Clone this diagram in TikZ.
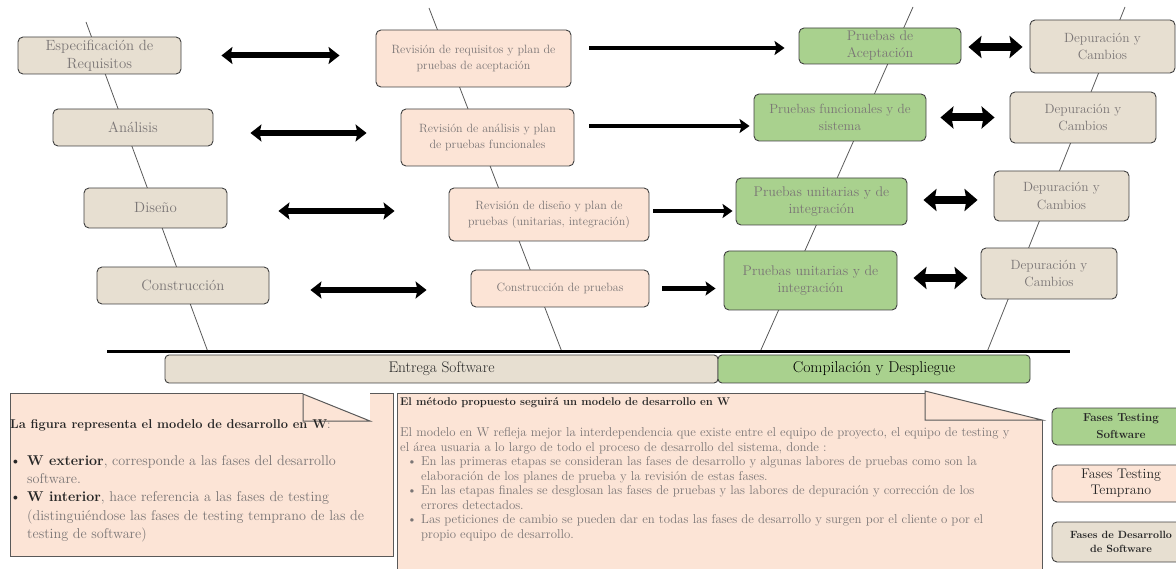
\documentclass[tikz,border=0pt]{standalone}
\usepackage{fontspec}
\usetikzlibrary{arrows.meta}
\definecolor{beige}{HTML}{E7DFD1}
\definecolor{pinkf}{HTML}{FCE4D6}
\definecolor{greenf}{HTML}{A9D18E}
\definecolor{bord}{HTML}{404040}
\definecolor{txtg}{HTML}{7A7575}
\definecolor{txtd}{HTML}{262626}
\begin{document}
\begin{tikzpicture}[x=1pt,y=-1pt,
 box/.style={draw=bord, line width=0.9pt, rounded corners=5pt, inner sep=0pt, align=center, text=txtg},
 bbox/.style={box, fill=beige},
 pbox/.style={box, fill=pinkf},
 gbox/.style={box, fill=greenf},
 wline/.style={draw=black!65, line width=0.8pt},
 dblL/.style={line width=6pt, {Stealth[length=11pt,width=17pt,inset=2pt]}-{Stealth[length=11pt,width=17pt,inset=2pt]}},
 sgl/.style={line width=4.5pt, -{Stealth[length=10pt,width=14pt,inset=2pt]}},
 dblR/.style={line width=8pt, {Stealth[length=13pt,width=22pt,inset=2pt]}-{Stealth[length=13pt,width=22pt,inset=2pt]}},
 ln/.style={anchor=west, inner sep=0pt, text height=10pt, text depth=3pt},
 callout/.style={draw=black!65, line width=1pt},
 f1/.style={font=\fontsize{14.8}{18}\selectfont},
 f2/.style={font=\fontsize{12}{16}\selectfont},
 f3/.style={font=\fontsize{14}{17}\selectfont},
 f4/.style={font=\fontsize{13.4}{17.5}\selectfont},
 fl/.style={font=\fontsize{14.2}{17}\selectfont},
 fm/.style={font=\fontsize{12.8}{15}\selectfont},
 ]
\useasboundingbox (0,0) rectangle (1176,569);

% W lines
\coordinate (w1a) at (86,22);   \coordinate (w1b) at (208,352);
\coordinate (w2a) at (429,8);   \coordinate (w2b) at (562,352);
\coordinate (w3a) at (913,7);   \coordinate (w3b) at (760,352);
\coordinate (w4a) at (1125,7);  \coordinate (w4b) at (987,352);
\draw[wline] (w1a) -- (w1b);
\draw[wline] (w2a) -- (w2b);
\draw[wline] (w3a) -- (w3b);
\draw[wline] (w4a) -- (w4b);

% base line
\coordinate (bl1) at (107,352); \coordinate (bl2) at (1070,352);
\draw[line width=3pt] (bl1) -- (bl2);

% development phases (outer W, left)
\node[bbox, f1, minimum width=163pt, minimum height=37pt] (spec) at (99.5,55.5) {Especificación de\\Requisitos};
\node[bbox, f1, minimum width=160pt, minimum height=37pt] (anal) at (133,127.5) {Análisis};
\node[bbox, f1, minimum width=143pt, minimum height=40pt] (dise) at (155.5,208) {Diseño};
\node[bbox, f1, minimum width=172pt, minimum height=37pt] (cons) at (183,285.5) {Construcción};

% early testing
\node[pbox, f2, minimum width=195pt, minimum height=57pt] (rreq) at (473.5,58.5) {Revisión de requisitos y plan de\\pruebas de aceptación};
\node[pbox, f2, minimum width=173pt, minimum height=57pt] (rana) at (487.5,137.5) {Revisión de análisis y plan\\de pruebas funcionales};
\node[pbox, f2, minimum width=200pt, minimum height=53pt] (rdis) at (549,214.5) {Revisión de diseño y plan de\\pruebas (unitarias, integración)};
\node[pbox, f2, minimum width=178pt, minimum height=37pt] (cpru) at (560,288.5) {Construcción de pruebas};

% software testing
\node[gbox, f3, minimum width=162pt, minimum height=36pt] (pacep) at (880,46) {Pruebas de\\Aceptación};
\node[gbox, font=\fontsize{13.3}{17}\selectfont, minimum width=172pt, minimum height=47pt] (pfunc) at (840,117.5) {Pruebas funcionales y de\\sistema};
\node[gbox, f3, minimum width=171pt, minimum height=47pt] (puni1) at (821.5,201.5) {Pruebas unitarias y de\\integración};
\node[gbox, f3, minimum width=173pt, minimum height=59pt] (puni2) at (810.5,280.5) {Pruebas unitarias y de\\integración};

% debugging
\node[bbox, f4, minimum width=145pt, minimum height=53pt] (dep1) at (1102.5,46.5) {Depuración y\\Cambios};
\node[bbox, f4, minimum width=146pt, minimum height=51pt] (dep2) at (1083,117.5) {Depuración y\\Cambios};
\node[bbox, f4, minimum width=135pt, minimum height=50pt] (dep3) at (1061.5,196) {Depuración y\\Cambios};
\node[bbox, f4, minimum width=136pt, minimum height=51pt] (dep4) at (1049,273.5) {Depuración y\\Cambios};

% arrows left column
\draw[dblL, shorten <=40pt, shorten >=36pt] (spec.east) -- (spec.east -| rreq.west);
\draw[dblL, shorten <=37pt, shorten >=34pt] ([yshift=-5.5pt]anal.east) -- ([yshift=-5.5pt]anal.east -| rana.west);
\draw[dblL, shorten <=51pt, shorten >=54pt] ([yshift=-3pt]dise.east) -- ([yshift=-3pt]dise.east -| rdis.west);
\draw[dblL, shorten <=41pt, shorten >=44pt] ([yshift=-4.5pt]cons.east) -- ([yshift=-4.5pt]cons.east -| cpru.west);

% arrows middle column
\draw[sgl, shorten <=18pt, shorten >=14pt] ([yshift=10.5pt]rreq.east) -- ([yshift=10.5pt]rreq.east -| pacep.west);
\draw[sgl, shorten <=15pt, shorten >=4pt] ([yshift=11.5pt]rana.east) -- ([yshift=11.5pt]rana.east -| pfunc.west);
\draw[sgl, shorten <=4pt, shorten >=3pt] ([yshift=3.5pt]rdis.east) -- ([yshift=3.5pt]rdis.east -| puni1.west);
\draw[sgl, shorten <=13pt, shorten >=8pt] (cpru.east) -- (cpru.east -| puni2.west);

% arrows right column
\draw[dblR, shorten <=7pt, shorten >=7pt] ([yshift=-1pt]pacep.east) -- ([yshift=-1pt]pacep.east -| dep1.west);
\draw[dblR, shorten <=14pt, shorten >=15pt] (pfunc.east) -- (pfunc.east -| dep2.west);
\draw[dblR, shorten <=16pt, shorten >=16pt] ([yshift=1.5pt]puni1.east) -- ([yshift=1.5pt]puni1.east -| dep3.west);
\draw[dblR, shorten <=16pt, shorten >=13pt] ([yshift=2.5pt]puni2.east) -- ([yshift=2.5pt]puni2.east -| dep4.west);

% bottom bars
\node[bbox, rounded corners=4pt, text=txtd, font=\fontsize{15.4}{18}\selectfont, minimum width=553pt, minimum height=28pt] (entrega) at (441.5,369) {Entrega Software};
\node[gbox, rounded corners=4pt, text=black, font=\fontsize{15.7}{18}\selectfont, minimum width=312pt, minimum height=28pt] (compil) at (874,369) {Compilación y Despliegue};

% left callout
\fill[pinkf] (10,394) -- (303,394) -- (370,421) -- (370,394) -- (393,394) -- (393,556) -- (10,556) -- cycle;
\draw[callout] (303,394) -- (10,394) -- (10,556) -- (393,556) -- (393,394) -- (370,394);
\draw[callout, fill=pinkf, line join=miter] (303,394) -- (370,421) -- (303,421) -- cycle;

\node[ln, font=\fontsize{12.8}{15}\selectfont\bfseries, text=txtd] (lt) at (10,425) {La figura representa el modelo de desarrollo en W\textcolor{txtg}{\mdseries:}};
\node[ln, fl, text=txtd] (lb1) at (10,462) {\textbullet};
\node[ln, fl, text=txtg] (l1) at (27,462) {\textcolor{txtd}{\bfseries W exterior}, corresponde a las fases del desarrollo};
\node[ln, fl, text=txtg] (l2) at (27,480) {software.};
\node[ln, fl, text=txtd] (lb2) at (10,498) {\textbullet};
\node[ln, fl, text=txtg] (l3) at (27,498) {\textcolor{txtd}{\bfseries W interior}, hace referencia a las fases de testing};
\node[ln, fl, text=txtg] (l4) at (27,517) {(distinguiéndose las fases de testing temprano de las de};
\node[ln, fl, text=txtg] (l5) at (27,535) {testing de software)};

% middle callout
\fill[pinkf] (397,394) -- (925,394) -- (1042,420) -- (1042,580) -- (397,580) -- cycle;
\draw[callout] (1042,420) -- (1042,580) (397,580) -- (397,394) -- (925,394);
\draw[callout, fill=pinkf, line join=miter] (925,391) -- (1042,420) -- (925,420) -- cycle;

\node[ln, font=\fontsize{11.2}{14}\selectfont\bfseries, text=txtd] (mt) at (400,402) {El método propuesto seguirá un modelo de desarrollo en W};
\node[ln, fm, text=txtg] (m1) at (400,433) {El modelo en W refleja mejor la interdependencia que existe entre el equipo de proyecto, el equipo de testing y};
\node[ln, fm, text=txtg] (m2) at (400,447.5) {el área usuaria a lo largo de todo el proceso de desarrollo del sistema, donde :};
\node[ln, fm, text=txtg] (mb1) at (407,462) {\textbullet};
\node[ln, fm, text=txtg] (m3) at (421,462) {En las primeras etapas se consideran las fases de desarrollo y algunas labores de pruebas como son la};
\node[ln, fm, text=txtg] (m4) at (421,476.5) {elaboración de los planes de prueba y la revisión de estas fases.};
\node[ln, fm, text=txtg] (mb2) at (407,491) {\textbullet};
\node[ln, fm, text=txtg] (m5) at (421,491) {En las etapas finales se desglosan las fases de pruebas y las labores de depuración y corrección de los};
\node[ln, fm, text=txtg] (m6) at (421,505.5) {errores detectados.};
\node[ln, fm, text=txtg] (mb3) at (407,520) {\textbullet};
\node[ln, fm, text=txtg] (m7) at (421,520) {Las peticiones de cambio se pueden dar en todas las fases de desarrollo y surgen por el cliente o por el};
\node[ln, fm, text=txtg] (m8) at (421,534.5) {propio equipo de desarrollo.};

% legend
\node[gbox, text=txtd, minimum width=138pt, minimum height=37pt, font=\fontsize{11.6}{17}\selectfont\bfseries] (lg1) at (1121,426.5) {Fases Testing\\Software};
\node[pbox, text=txtd, minimum width=138pt, minimum height=37pt, font=\fontsize{14}{16}\selectfont] (lg2) at (1121,483.5) {Fases Testing\\Temprano};
\node[bbox, text=txtd, minimum width=138pt, minimum height=40pt, font=\fontsize{10.5}{14}\selectfont\bfseries] (lg3) at (1121,542) {Fases de Desarrollo\\de Software};
\end{tikzpicture}
\end{document}
